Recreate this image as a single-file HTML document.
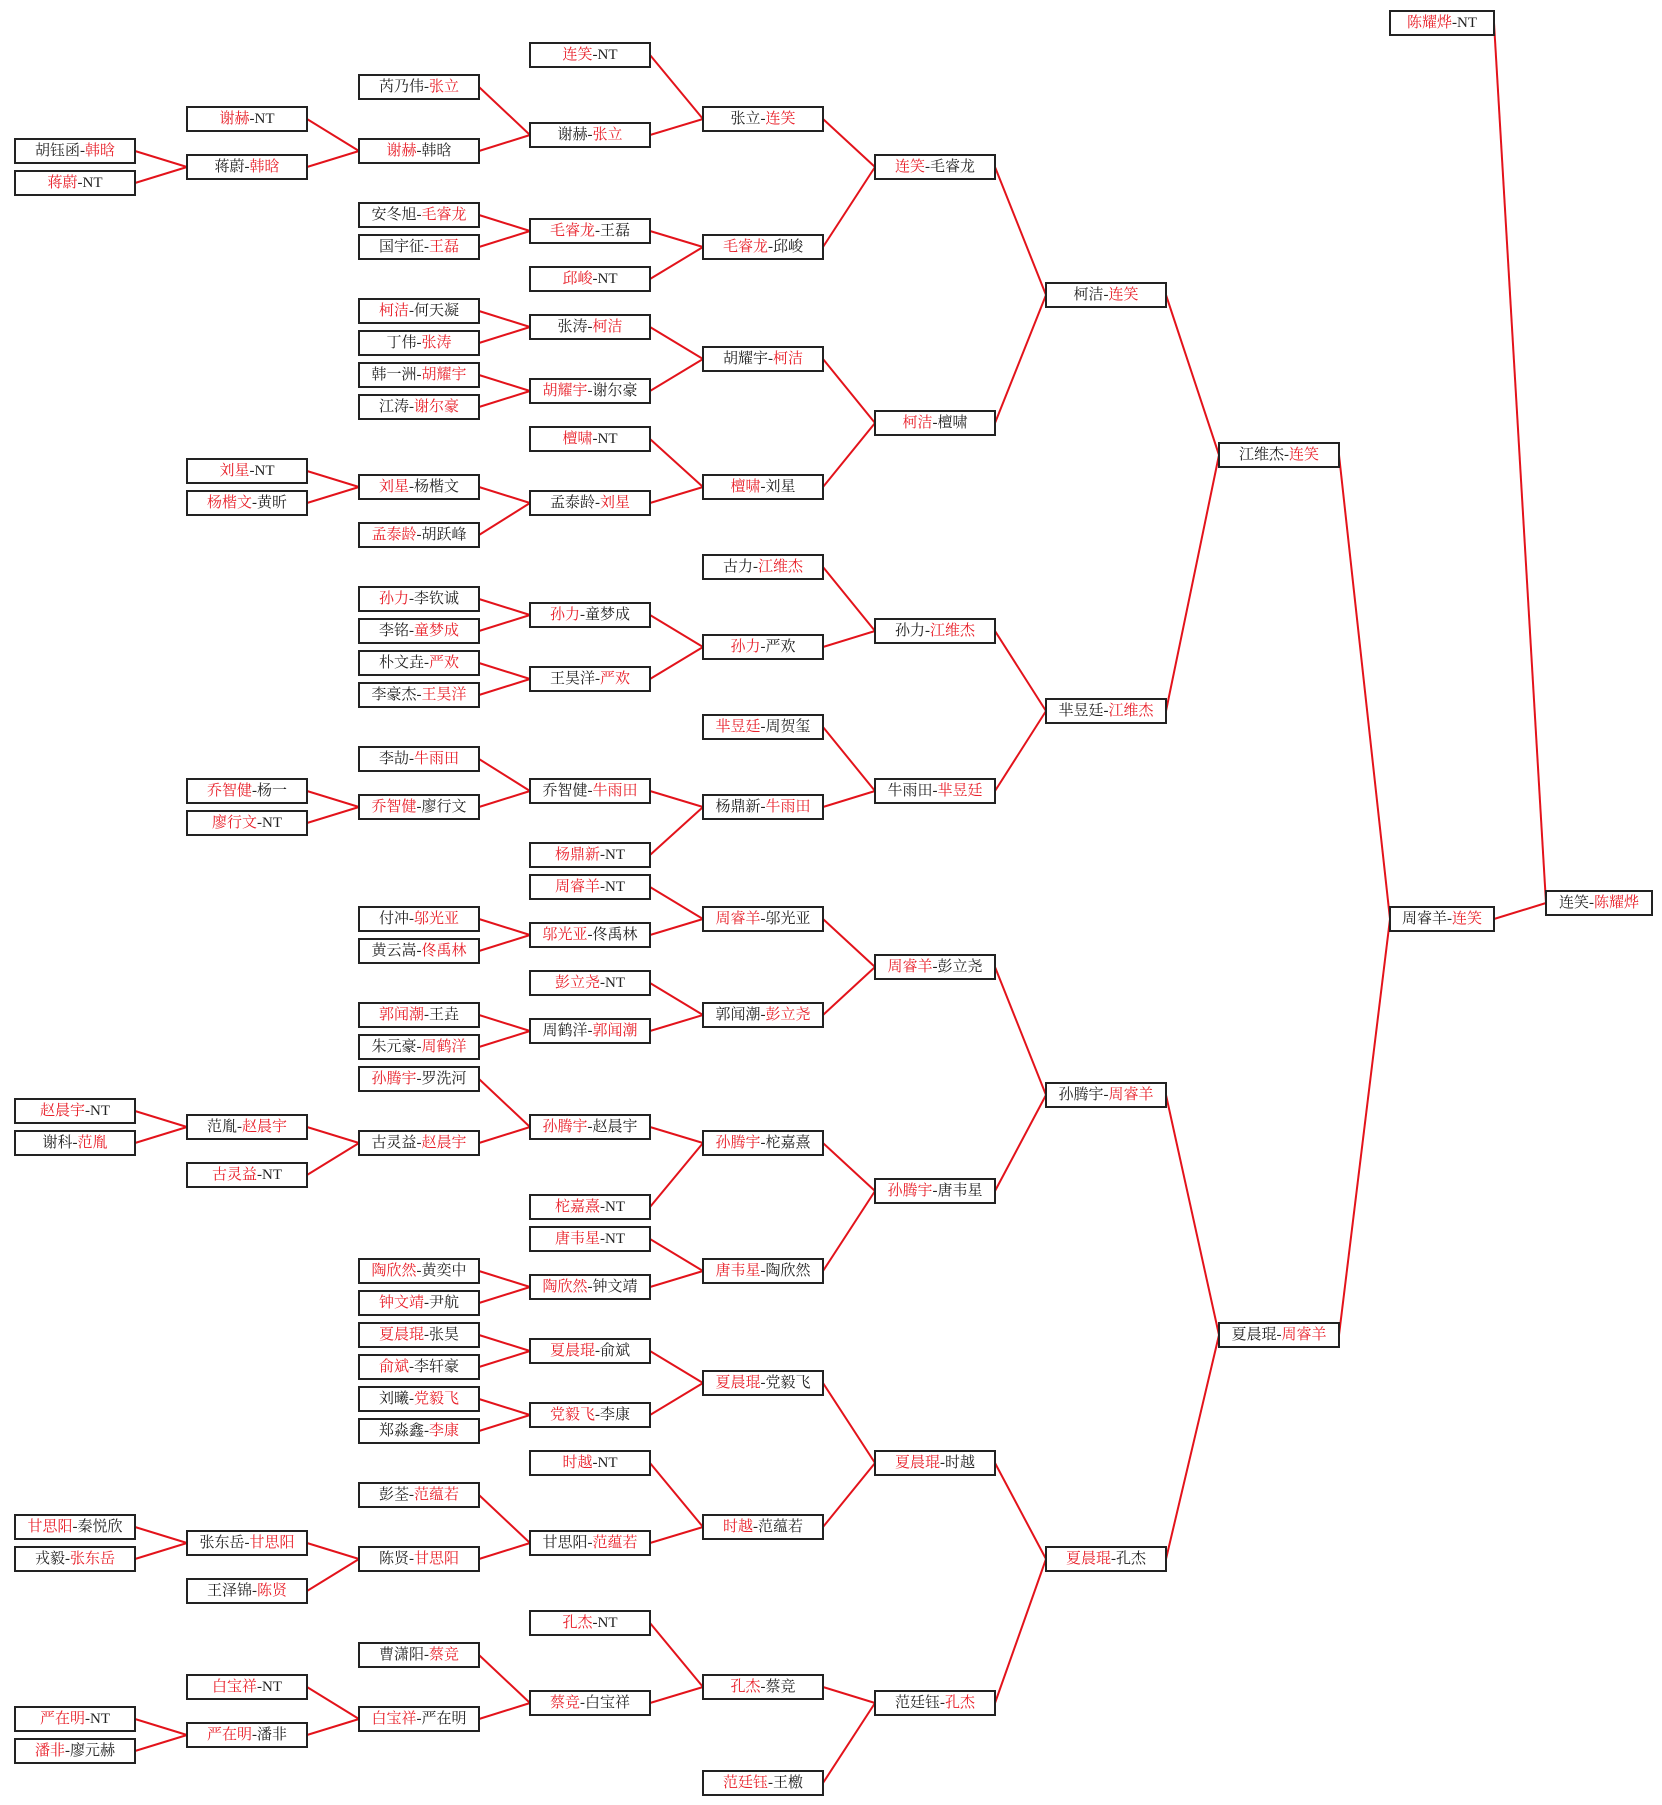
<!DOCTYPE html>
<html><head><meta charset="utf-8"><style>
html,body{margin:0;padding:0;background:#fff}
body{width:1662px;height:1805px;position:relative;overflow:hidden;font-family:"Liberation Serif","Noto Serif CJK SC","Noto Sans CJK SC",serif}
.b{position:absolute;height:22px;border:2px solid #222;background:#fff;box-sizing:content-box;text-align:center;line-height:22px;font-size:15px;color:#222;white-space:nowrap;z-index:2}
.b i{font-style:normal;color:#e8202a}
.c0{left:14px;width:118px}.c1{left:186px;width:118px}.c2{left:358px;width:118px}.c3{left:529px;width:118px}
.c4{left:702px;width:118px}.c5{left:874px;width:118px}.c6{left:1045px;width:118px}.c7{left:1218px;width:118px}
.c8{left:1389px;width:102px}.c9{left:1545px;width:104px}
svg{position:absolute;left:0;top:0;z-index:1}
</style></head><body>
<svg id="s" width="1662" height="1805"></svg>
<div id="boxes">
<div class="b c0" data-k="8">胡钰函-<i>韩晗</i></div>
<div class="b c0" data-k="10"><i>蒋蔚</i>-NT</div>
<div class="b c0" data-k="68"><i>赵晨宇</i>-NT</div>
<div class="b c0" data-k="70">谢科-<i>范胤</i></div>
<div class="b c0" data-k="94"><i>甘思阳</i>-秦悦欣</div>
<div class="b c0" data-k="96">戎毅-<i>张东岳</i></div>
<div class="b c0" data-k="106"><i>严在明</i>-NT</div>
<div class="b c0" data-k="108"><i>潘非</i>-廖元赫</div>

<div class="b c1" data-k="6"><i>谢赫</i>-NT</div>
<div class="b c1" data-k="9">蒋蔚-<i>韩晗</i></div>
<div class="b c1" data-k="28"><i>刘星</i>-NT</div>
<div class="b c1" data-k="30"><i>杨楷文</i>-黄昕</div>
<div class="b c1" data-k="48"><i>乔智健</i>-杨一</div>
<div class="b c1" data-k="50"><i>廖行文</i>-NT</div>
<div class="b c1" data-k="69">范胤-<i>赵晨宇</i></div>
<div class="b c1" data-k="72"><i>古灵益</i>-NT</div>
<div class="b c1" data-k="95">张东岳-<i>甘思阳</i></div>
<div class="b c1" data-k="98">王泽锦-<i>陈贤</i></div>
<div class="b c1" data-k="104"><i>白宝祥</i>-NT</div>
<div class="b c1" data-k="107"><i>严在明</i>-潘非</div>

<div class="b c2" data-k="4">芮乃伟-<i>张立</i></div>
<div class="b c2" data-k="8"><i>谢赫</i>-韩晗</div>
<div class="b c2" data-k="12">安冬旭-<i>毛睿龙</i></div>
<div class="b c2" data-k="14">国宇征-<i>王磊</i></div>
<div class="b c2" data-k="18"><i>柯洁</i>-何天凝</div>
<div class="b c2" data-k="20">丁伟-<i>张涛</i></div>
<div class="b c2" data-k="22">韩一洲-<i>胡耀宇</i></div>
<div class="b c2" data-k="24">江涛-<i>谢尔豪</i></div>
<div class="b c2" data-k="29"><i>刘星</i>-杨楷文</div>
<div class="b c2" data-k="32"><i>孟泰龄</i>-胡跃峰</div>
<div class="b c2" data-k="36"><i>孙力</i>-李钦诚</div>
<div class="b c2" data-k="38">李铭-<i>童梦成</i></div>
<div class="b c2" data-k="40">朴文垚-<i>严欢</i></div>
<div class="b c2" data-k="42">李豪杰-<i>王昊洋</i></div>
<div class="b c2" data-k="46">李劼-<i>牛雨田</i></div>
<div class="b c2" data-k="49"><i>乔智健</i>-廖行文</div>
<div class="b c2" data-k="56">付冲-<i>邬光亚</i></div>
<div class="b c2" data-k="58">黄云嵩-<i>佟禹林</i></div>
<div class="b c2" data-k="62"><i>郭闻潮</i>-王垚</div>
<div class="b c2" data-k="64">朱元豪-<i>周鹤洋</i></div>
<div class="b c2" data-k="66"><i>孙腾宇</i>-罗洗河</div>
<div class="b c2" data-k="70">古灵益-<i>赵晨宇</i></div>
<div class="b c2" data-k="78"><i>陶欣然</i>-黄奕中</div>
<div class="b c2" data-k="80"><i>钟文靖</i>-尹航</div>
<div class="b c2" data-k="82"><i>夏晨琨</i>-张昊</div>
<div class="b c2" data-k="84"><i>俞斌</i>-李轩豪</div>
<div class="b c2" data-k="86">刘曦-<i>党毅飞</i></div>
<div class="b c2" data-k="88">郑淼鑫-<i>李康</i></div>
<div class="b c2" data-k="92">彭荃-<i>范蕴若</i></div>
<div class="b c2" data-k="96">陈贤-<i>甘思阳</i></div>
<div class="b c2" data-k="102">曹潇阳-<i>蔡竞</i></div>
<div class="b c2" data-k="106"><i>白宝祥</i>-严在明</div>

<div class="b c3" data-k="2"><i>连笑</i>-NT</div>
<div class="b c3" data-k="7">谢赫-<i>张立</i></div>
<div class="b c3" data-k="13"><i>毛睿龙</i>-王磊</div>
<div class="b c3" data-k="16"><i>邱峻</i>-NT</div>
<div class="b c3" data-k="19">张涛-<i>柯洁</i></div>
<div class="b c3" data-k="23"><i>胡耀宇</i>-谢尔豪</div>
<div class="b c3" data-k="26"><i>檀啸</i>-NT</div>
<div class="b c3" data-k="30">孟泰龄-<i>刘星</i></div>
<div class="b c3" data-k="37"><i>孙力</i>-童梦成</div>
<div class="b c3" data-k="41">王昊洋-<i>严欢</i></div>
<div class="b c3" data-k="48">乔智健-<i>牛雨田</i></div>
<div class="b c3" data-k="52"><i>杨鼎新</i>-NT</div>
<div class="b c3" data-k="54"><i>周睿羊</i>-NT</div>
<div class="b c3" data-k="57"><i>邬光亚</i>-佟禹林</div>
<div class="b c3" data-k="60"><i>彭立尧</i>-NT</div>
<div class="b c3" data-k="63">周鹤洋-<i>郭闻潮</i></div>
<div class="b c3" data-k="69"><i>孙腾宇</i>-赵晨宇</div>
<div class="b c3" data-k="74"><i>柁嘉熹</i>-NT</div>
<div class="b c3" data-k="76"><i>唐韦星</i>-NT</div>
<div class="b c3" data-k="79"><i>陶欣然</i>-钟文靖</div>
<div class="b c3" data-k="83"><i>夏晨琨</i>-俞斌</div>
<div class="b c3" data-k="87"><i>党毅飞</i>-李康</div>
<div class="b c3" data-k="90"><i>时越</i>-NT</div>
<div class="b c3" data-k="95">甘思阳-<i>范蕴若</i></div>
<div class="b c3" data-k="100"><i>孔杰</i>-NT</div>
<div class="b c3" data-k="105"><i>蔡竞</i>-白宝祥</div>

<div class="b c4" data-k="6">张立-<i>连笑</i></div>
<div class="b c4" data-k="14"><i>毛睿龙</i>-邱峻</div>
<div class="b c4" data-k="21">胡耀宇-<i>柯洁</i></div>
<div class="b c4" data-k="29"><i>檀啸</i>-刘星</div>
<div class="b c4" data-k="34">古力-<i>江维杰</i></div>
<div class="b c4" data-k="39"><i>孙力</i>-严欢</div>
<div class="b c4" data-k="44"><i>芈昱廷</i>-周贺玺</div>
<div class="b c4" data-k="49">杨鼎新-<i>牛雨田</i></div>
<div class="b c4" data-k="56"><i>周睿羊</i>-邬光亚</div>
<div class="b c4" data-k="62">郭闻潮-<i>彭立尧</i></div>
<div class="b c4" data-k="70"><i>孙腾宇</i>-柁嘉熹</div>
<div class="b c4" data-k="78"><i>唐韦星</i>-陶欣然</div>
<div class="b c4" data-k="85"><i>夏晨琨</i>-党毅飞</div>
<div class="b c4" data-k="94"><i>时越</i>-范蕴若</div>
<div class="b c4" data-k="104"><i>孔杰</i>-蔡竞</div>
<div class="b c4" data-k="110"><i>范廷钰</i>-王檄</div>

<div class="b c5" data-k="9"><i>连笑</i>-毛睿龙</div>
<div class="b c5" data-k="25"><i>柯洁</i>-檀啸</div>
<div class="b c5" data-k="38">孙力-<i>江维杰</i></div>
<div class="b c5" data-k="48">牛雨田-<i>芈昱廷</i></div>
<div class="b c5" data-k="59"><i>周睿羊</i>-彭立尧</div>
<div class="b c5" data-k="73"><i>孙腾宇</i>-唐韦星</div>
<div class="b c5" data-k="90"><i>夏晨琨</i>-时越</div>
<div class="b c5" data-k="105">范廷钰-<i>孔杰</i></div>

<div class="b c6" data-k="17">柯洁-<i>连笑</i></div>
<div class="b c6" data-k="43">芈昱廷-<i>江维杰</i></div>
<div class="b c6" data-k="67">孙腾宇-<i>周睿羊</i></div>
<div class="b c6" data-k="96"><i>夏晨琨</i>-孔杰</div>

<div class="b c7" data-k="27">江维杰-<i>连笑</i></div>
<div class="b c7" data-k="82">夏晨琨-<i>周睿羊</i></div>

<div class="b c8" data-k="0"><i>陈耀烨</i>-NT</div>
<div class="b c8" data-k="56">周睿羊-<i>连笑</i></div>

<div class="b c9" data-k="55">连笑-<i>陈耀烨</i></div>
</div>
<script>
var bs=document.querySelectorAll('.b');
for(var i=0;i<bs.length;i++){bs[i].style.top=(10+16*(+bs[i].getAttribute('data-k')))+'px';}
var L=[14,186,358,529,702,874,1045,1218,1389,1545],W=[122,122,122,122,122,122,122,122,106,108];
var E="0,8,9;0,10,9;0,68,69;0,70,69;0,94,95;0,96,95;0,106,107;0,108,107;"+
"1,6,8;1,9,8;1,28,29;1,30,29;1,48,49;1,50,49;1,69,70;1,72,70;1,95,96;1,98,96;1,104,106;1,107,106;"+
"2,4,7;2,8,7;2,12,13;2,14,13;2,18,19;2,20,19;2,22,23;2,24,23;2,29,30;2,32,30;2,36,37;2,38,37;2,40,41;2,42,41;2,46,48;2,49,48;2,56,57;2,58,57;2,62,63;2,64,63;2,66,69;2,70,69;2,78,79;2,80,79;2,82,83;2,84,83;2,86,87;2,88,87;2,92,95;2,96,95;2,102,105;2,106,105;"+
"3,2,6;3,7,6;3,13,14;3,16,14;3,19,21;3,23,21;3,26,29;3,30,29;3,37,39;3,41,39;3,48,49;3,52,49;3,54,56;3,57,56;3,60,62;3,63,62;3,69,70;3,74,70;3,76,78;3,79,78;3,83,85;3,87,85;3,90,94;3,95,94;3,100,104;3,105,104;"+
"4,6,9;4,14,9;4,21,25;4,29,25;4,34,38;4,39,38;4,44,48;4,49,48;4,56,59;4,62,59;4,70,73;4,78,73;4,85,90;4,94,90;4,104,105;4,110,105;"+
"5,9,17;5,25,17;5,38,43;5,48,43;5,59,67;5,73,67;5,90,96;5,105,96;6,17,27;6,43,27;6,67,82;6,96,82;7,27,56;7,82,56;8,0,55;8,56,55";
var s='';E.split(';').forEach(function(e){var a=e.split(',').map(Number),c=a[0];
s+='<line x1="'+(L[c]+W[c]-1)+'" y1="'+(23+16*a[1])+'" x2="'+(L[c+1]+1)+'" y2="'+(23+16*a[2])+'"/>';});
document.getElementById('s').innerHTML='<g stroke="#e3131b" stroke-width="2" fill="none">'+s+'</g>';
</script>
</body></html>
